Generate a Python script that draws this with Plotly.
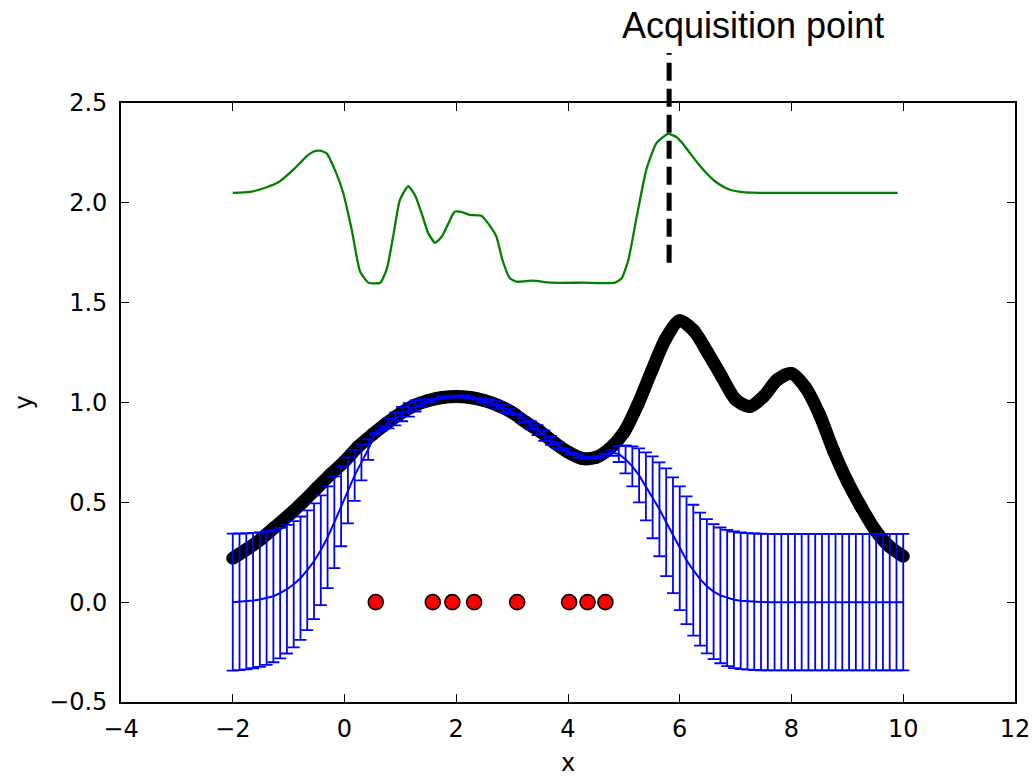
import numpy as np
import plotly.graph_objects as go

# ---- data -------------------------------------------------------------
# true objective, sampled every 0.25 on [-2, 10]
true_x = [-2.0, -1.75, -1.5, -1.25, -1.0, -0.75, -0.5, -0.25, 0.0, 0.25,
          0.5, 0.75, 1.0, 1.25, 1.5, 1.75, 2.0, 2.25, 2.5, 2.75,
          3.0, 3.25, 3.5, 3.75, 4.0, 4.25, 4.5, 4.75, 5.0, 5.25,
          5.5, 5.75, 6.0, 6.25, 6.5, 6.75, 7.0, 7.25, 7.5, 7.75,
          8.0, 8.25, 8.5, 8.75, 9.0, 9.25, 9.5, 9.75, 10.0]
true_y = [0.22, 0.265, 0.315, 0.375, 0.435, 0.50, 0.57, 0.64, 0.705, 0.78,
          0.84, 0.895, 0.945, 0.985, 1.01, 1.025, 1.03, 1.025, 1.01, 0.985,
          0.95, 0.90, 0.855, 0.80, 0.752, 0.72, 0.725, 0.77, 0.85, 0.99,
          1.16, 1.32, 1.41, 1.36, 1.25, 1.13, 1.015, 0.98, 1.03, 1.115,
          1.145, 1.075, 0.94, 0.76, 0.605, 0.475, 0.36, 0.28, 0.23]

# GP posterior on 100 evenly spaced points over [-2, 10]
gp_x = np.linspace(-2, 10, 100)
gp_mean = [
    0.000, 0.002, 0.004, 0.008, 0.013, 0.020, 0.030, 0.045, 0.065, 0.090,
    0.120, 0.160, 0.205, 0.260, 0.325, 0.400, 0.480, 0.560, 0.635, 0.700,
    0.765, 0.843, 0.872, 0.895, 0.918, 0.942, 0.963, 0.983, 0.997, 1.009,
    1.018, 1.025, 1.028, 1.030, 1.030, 1.026, 1.018, 1.010, 1.000, 0.987,
    0.970, 0.955, 0.940, 0.912, 0.886, 0.862, 0.834, 0.810, 0.786, 0.763,
    0.745, 0.730, 0.722, 0.722, 0.728, 0.740, 0.748, 0.742, 0.715, 0.680,
    0.635, 0.580, 0.525, 0.465, 0.400, 0.335, 0.270, 0.210, 0.160, 0.115,
    0.080, 0.053, 0.034, 0.021, 0.012, 0.007, 0.004, 0.002, 0.001, 0.000,
    0.000, 0.000, 0.000, 0.000, 0.000, 0.000, 0.000, 0.000, 0.000, 0.000,
    0.000, 0.000, 0.000, 0.000, 0.000, 0.000, 0.000, 0.000, 0.000, 0.000,
]
gp_err = [
    0.343, 0.342, 0.341, 0.339, 0.337, 0.334, 0.331, 0.327, 0.322, 0.316,
    0.309, 0.300, 0.290, 0.275, 0.255, 0.230, 0.200, 0.165, 0.128, 0.090,
    0.052, 0.006, 0.012, 0.025, 0.033, 0.036, 0.034, 0.028, 0.018, 0.007,
    0.004, 0.006, 0.004, 0.004, 0.006, 0.004, 0.004, 0.010, 0.016, 0.020,
    0.018, 0.012, 0.004, 0.012, 0.020, 0.025, 0.026, 0.022, 0.015, 0.007,
    0.004, 0.006, 0.004, 0.004, 0.005, 0.004, 0.015, 0.040, 0.070, 0.100,
    0.135, 0.170, 0.205, 0.235, 0.270, 0.290, 0.310, 0.320, 0.328, 0.333,
    0.336, 0.338, 0.340, 0.341, 0.342, 0.342, 0.342, 0.342, 0.342, 0.342,
    0.342, 0.342, 0.342, 0.342, 0.342, 0.342, 0.342, 0.342, 0.342, 0.342,
    0.342, 0.342, 0.342, 0.342, 0.342, 0.342, 0.342, 0.342, 0.342, 0.342,
]

# observed samples
obs_x = [0.56, 1.58, 1.93, 2.32, 3.09, 4.02, 4.35, 4.67]
obs_y = [0.0, 0.0, 0.0, 0.0, 0.0, 0.0, 0.0, 0.0]

# acquisition function (shifted up for display)
acq_x = [-2.0, -1.69, -1.39, -1.2, -1.09, -0.9, -0.80, -0.68, -0.56, -0.44,
         -0.32, -0.17, -0.02, 0.13, 0.28, 0.43, 0.64, 0.76, 0.87, 0.99,
         1.14, 1.26, 1.38, 1.50, 1.62, 1.74, 1.86, 1.97, 2.09, 2.24,
         2.45, 2.57, 2.72, 2.82, 2.96, 3.08, 3.37, 3.68, 4.27, 4.84,
         4.96, 5.08, 5.23, 5.40, 5.58, 5.79, 5.94, 6.06, 6.18, 6.33,
         6.48, 6.63, 6.78, 6.93, 7.08, 7.3, 7.55, 9.90]
acq_y = [2.05, 2.055, 2.078, 2.100, 2.123, 2.170, 2.198, 2.233, 2.256, 2.261,
         2.248, 2.164, 2.047, 1.864, 1.655, 1.600, 1.600, 1.672, 1.830, 2.014,
         2.083, 2.039, 1.948, 1.847, 1.800, 1.830, 1.897, 1.955, 1.955, 1.940,
         1.935, 1.897, 1.830, 1.720, 1.622, 1.605, 1.610, 1.600, 1.600, 1.600,
         1.622, 1.714, 1.931, 2.164, 2.298, 2.345, 2.330, 2.295, 2.250, 2.196,
         2.148, 2.108, 2.081, 2.063, 2.055, 2.051, 2.050, 2.050]

next_point_x = 5.81
marker_y = [1.70, 2.75]
label_x = 4.93
label_y = 2.89

x_range = [-4, 12]
y_range = [-0.5, 2.5]
x_ticks = [-4, -2, 0, 2, 4, 6, 8, 10, 12]
y_ticks = [-0.5, 0.0, 0.5, 1.0, 1.5, 2.0, 2.5]


def to_paper_y(v):
    return (v - y_range[0]) / (y_range[1] - y_range[0])


# ---- figure -----------------------------------------------------------
fig = go.Figure()

fig.add_trace(go.Scatter(
    x=true_x, y=true_y, mode="lines+markers",
    line=dict(color="black", width=13, shape="spline", smoothing=0.8),
    marker=dict(color="black", size=13),
    hoverinfo="skip", showlegend=False,
))

fig.add_trace(go.Scatter(
    x=gp_x, y=gp_mean, mode="lines",
    line=dict(color="#0000ff", width=2),
    error_y=dict(type="data", array=gp_err, visible=True,
                 color="#0000ff", thickness=1.8, width=6),
    showlegend=False,
))

fig.add_trace(go.Scatter(
    x=obs_x, y=obs_y, mode="markers",
    marker=dict(color="#ff0000", size=15, line=dict(color="black", width=1.6)),
    showlegend=False,
))

fig.add_trace(go.Scatter(
    x=acq_x, y=acq_y, mode="lines",
    line=dict(color="#008000", width=2.3, shape="spline", smoothing=0.5),
    showlegend=False,
))

# dashed marker of the chosen point; extends above the axes frame
fig.add_shape(
    type="line", xref="x", yref="paper",
    x0=next_point_x, x1=next_point_x,
    y0=to_paper_y(marker_y[0]), y1=to_paper_y(marker_y[1]),
    line=dict(color="black", width=5, dash="18px,8px"),
    layer="above",
)

fig.add_annotation(
    x=label_x, y=to_paper_y(label_y), xref="x", yref="paper",
    text="Acquisition point", showarrow=False,
    xanchor="left", yanchor="middle",
    font=dict(family="Liberation Sans, Arial, sans-serif", size=36, color="black"),
)

axis_common = dict(
    showgrid=False, zeroline=False, automargin=False,
    showline=True, linecolor="black", linewidth=1.6, mirror="ticks",
    ticks="inside", ticklen=8, tickwidth=1.3, tickcolor="black",
    tickfont=dict(family="DejaVu Sans", size=24, color="black"),
    title_font=dict(family="DejaVu Sans", size=24, color="black"),
)

fig.update_xaxes(
    range=x_range, tickvals=x_ticks, title_text="x",
    title_standoff=14, ticklabelstandoff=4, **axis_common,
)
fig.update_yaxes(
    range=y_range, tickvals=y_ticks, tickformat=".1f", title_text="y",
    title_standoff=10, ticklabelstandoff=7, **axis_common,
)

fig.update_layout(
    width=1036, height=777,
    margin=dict(l=121, r=21, t=103, b=75),
    paper_bgcolor="white", plot_bgcolor="white",
    showlegend=False,
)

fig.write_html("out.html")
